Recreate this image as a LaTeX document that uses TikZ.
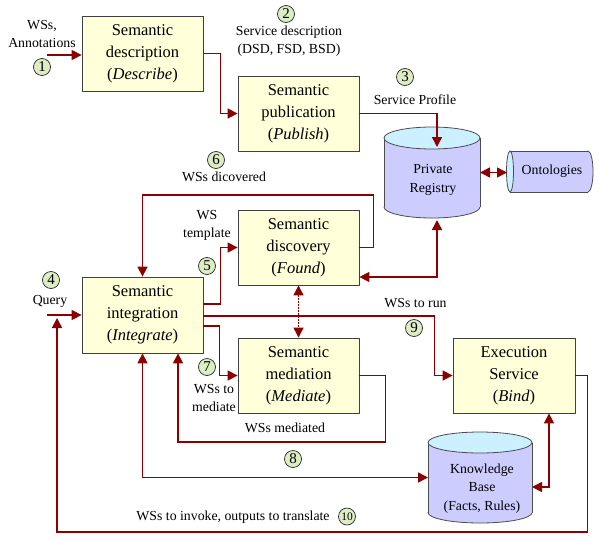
\documentclass[tikz,border=0pt]{standalone}
\usepackage{fontspec}
\setmainfont{Liberation Serif}
\usetikzlibrary{arrows.meta,calc}
\definecolor{dred}{RGB}{139,0,0}
\definecolor{boxfill}{RGB}{255,255,217}
\definecolor{cylbody}{RGB}{204,204,255}
\definecolor{cyltop}{RGB}{204,240,255}
\definecolor{numfill}{RGB}{222,236,196}
\begin{document}
\begin{tikzpicture}[x=1pt,y=-1pt,
  box/.style={draw=black!75, fill=boxfill, line width=0.8pt, minimum width=121pt, minimum height=75pt, inner sep=0pt, align=center, font=\fontsize{16.5}{22}\selectfont},
  lbl/.style={align=center, font=\fontsize{13.8}{18}\selectfont, inner sep=0pt},
  num/.style={circle, draw=black!85, fill=numfill, line width=0.7pt, minimum size=17pt, inner sep=0pt, font=\fontsize{15}{15}\selectfont},
  link/.style={draw=dred, line width=1.5pt, -{Triangle[length=10pt,width=10pt]}},
  dlink/.style={draw=dred, line width=1.5pt, {Triangle[length=10pt,width=10pt]}-{Triangle[length=10pt,width=10pt]}},
  cyl/.style={draw=black!70, line width=0.8pt},
  hold/.style={inner sep=0pt, outer sep=0pt}
]
\useasboundingbox[fill=white] (0,0) rectangle (599,541);

% ---------- boxes ----------
\node[box] (desc) at (142.5,53.5) {Semantic\\description\\(\textit{Describe})};
\node[box] (pub) at (298.5,113.5) {Semantic\\publication\\(\textit{Publish})};
\node[box] (disc) at (298.5,247.5) {Semantic\\discovery\\(\textit{Found})};
\node[box, minimum height=76pt] (integ) at (142.5,315) {Semantic\\integration\\(\textit{Integrate})};
\node[box] (med) at (298.5,375.5) {Semantic\\mediation\\(\textit{Mediate})};
\node[box, minimum width=122pt] (exec) at (514,375.5) {Execution\\Service\\(\textit{Bind})};

% ---------- Private Registry cylinder ----------
\filldraw[cyl, fill=cylbody] (432,207) ellipse [x radius=48pt, y radius=11pt];
\fill[cylbody] (384,138) rectangle (480,207);
\draw[cyl] (384,138) -- (384,207) (480,138) -- (480,207);
\filldraw[cyl, fill=cyltop] (432,138) ellipse [x radius=48pt, y radius=11pt];
\node[hold, minimum width=96pt, minimum height=91pt] (reg) at (432,172.5) {};
\node[lbl, font=\fontsize{13.8}{19}\selectfont] (regtxt) at (433,180) {Private\\Registry};

% ---------- Ontologies cylinder ----------
\filldraw[cyl, fill=cylbody] (588,171.5) ellipse [x radius=5pt, y radius=20.5pt];
\fill[cylbody] (510,151) rectangle (588,192);
\draw[cyl] (510,151) -- (588,151) (510,192) -- (588,192);
\filldraw[cyl, fill=cyltop] (510,171.5) ellipse [x radius=3.5pt, y radius=20.5pt];
\node[hold, minimum width=86pt, minimum height=41pt] (onto) at (550,171.5) {};
\node[lbl] (ontotxt) at (552,171.5) {Ontologies};

% ---------- Knowledge Base cylinder ----------
\filldraw[cyl, fill=cylbody] (480,512.5) ellipse [x radius=52pt, y radius=10.5pt];
\fill[cylbody] (428,442.5) rectangle (532,512.5);
\draw[cyl] (428,442.5) -- (428,512.5) (532,442.5) -- (532,512.5);
\filldraw[cyl, fill=cyltop] (480,442.5) ellipse [x radius=52pt, y radius=10.5pt];
\node[hold, minimum width=104pt, minimum height=91pt] (kb) at (480,477.5) {};
\node[lbl, font=\fontsize{13.8}{18.5}\selectfont] (kbtxt) at (482,488.5) {Knowledge\\Base\\(Facts, Rules)};

% ---------- helper coordinates ----------
\coordinate (in1) at (47,55);
\coordinate (regtop) at (437,147);
\coordinate (regbot) at (437,220);
\coordinate (qin) at (47,315);
\coordinate (qtip) at (57,318);

% ---------- connectors ----------
\draw[link] (in1) -- (in1 -| desc.west);
\draw[link] (desc.east) -- ++(17,0) |- (pub.west);
\draw[link] (pub.east) -| (regtop);
\draw[dlink] (reg.east) -- (reg.east -| onto.west);
\draw[link] (disc.east) -- ++(14,0) -- ++(0,-52.5) -| (integ.north);
\draw[dlink] (regbot) |- ($(disc.east)+(0,29.5)$);
\draw[link] ($(integ.east)+(0,-11)$) -- ++(17,0) |- (disc.west);
\draw[link] ($(integ.east)+(0,1)$) -- ++(231,0) |- (exec.west);
\draw[link] ($(integ.east)+(0,11)$) -- ++(16,0) |- (med.west);
\draw[dlink, line width=0.9pt, dash pattern=on 1.5pt off 1.5pt] (disc.south) -- (med.north);
\draw[link] (med.east) -- ++(26,0) -- ++(0,66.5) -| ($(integ.south)+(35.5,0)$);
\draw[dlink] (integ.south) |- (kb.west);
\draw[dlink] ($(exec.south)+(35,0)$) |- ($(kb.east)+(0,9.5)$);
\draw[link] (qin) -- (integ.west);
\draw[link] (exec.east) -- ++(12,0) -- ++(0,156.5) -| (qtip);

% ---------- labels ----------
\node[lbl] (l1) at (42,34) {WSs,\\Annotations};
\node[num] (n1) at (42,67) {1};
\node[num] (n2) at (286,14) {2};
\node[lbl] (l2) at (289,41.5) {Service description\\(DSD, FSD, BSD)};
\node[num] (n3) at (405,77) {3};
\node[lbl] (l3) at (415,100) {Service Profile};
\node[num] (n6) at (216,160) {6};
\node[lbl] (l6) at (224,177) {WSs dicovered};
\node[lbl] (l5) at (207,225) {WS\\template};
\node[num] (n5) at (207,266) {5};
\node[num] (n4) at (51,280) {4};
\node[lbl] (l4) at (50,301) {Query};
\node[num] (n7) at (207,367) {7};
\node[lbl] (l7) at (214,397.5) {WSs to\\mediate};
\node[lbl] (l8m) at (285,428) {WSs mediated};
\node[num] (n8) at (293,459) {8};
\node[lbl] (l9) at (415.5,303) {WSs to run};
\node[num] (n9) at (414,328) {9};
\node[lbl] (l10) at (233,517) {WSs to invoke, outputs to translate};
\node[num, font=\fontsize{11.5}{11.5}\selectfont] (n10) at (347,516.5) {10};
\end{tikzpicture}
\end{document}
